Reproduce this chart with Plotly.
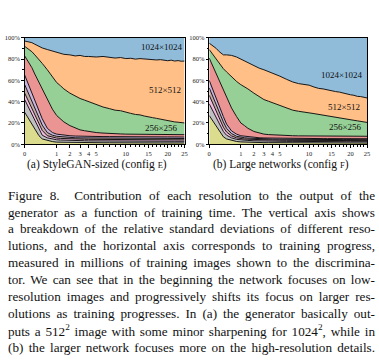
import numpy as np
import plotly.graph_objects as go

# ---------------- data ----------------
# training progress (millions of images) at which boundaries were read
mimg = [0, 0.05, 0.1, 0.2, 0.3, 0.5, 0.75, 1, 1.25, 1.5, 2, 2.5, 3, 3.5, 4, 5, 6, 7, 8, 9,
        10, 11, 12, 13, 14, 15, 16, 17, 18, 19, 20, 21, 22, 23, 24, 25]

resolutions = ["4x4", "8x8", "16x16", "32x32", "64x64", "128x128", "256x256", "512x512", "1024x1024"]
colors = ["#dcdc8f", "#c0c0c0", "#f1bbe0", "#c6aba5", "#cab4de", "#eb9494", "#96d096", "#ffbf87", "#90bcda"]

# cumulative upper boundary (%) of each resolution band, (a) config E
a_4 = [30, 19, 14.5, 8, 5, 3.5, 2.5, 2, 1.9, 1.8, 1.7, 1.6, 1.5, 1.5, 1.5, 1.4, 1.4, 1.4, 1.3, 1.3,
       1.3, 1.3, 1.3, 1.3, 1.3, 1.3, 1.2, 1.2, 1.2, 1.2, 1.2, 1.2, 1.2, 1.2, 1.2, 1.2]
a_8 = [42, 28.5, 22, 14, 8.5, 6, 4.8, 4.2, 4, 3.8, 3.6, 3.4, 3.3, 3.3, 3.2, 3.1, 3.1, 3, 3, 3,
       3, 3, 2.9, 2.9, 2.9, 2.9, 2.9, 2.9, 2.9, 2.9, 2.8, 2.8, 2.8, 2.8, 2.8, 2.8]
a_16 = [48, 34, 27.5, 19, 13, 8, 6.5, 5.8, 5.5, 5.3, 5, 4.8, 4.7, 4.7, 4.6, 4.5, 4.4, 4.4, 4.3, 4.3,
        4.3, 4.3, 4.3, 4.2, 4.2, 4.2, 4.2, 4.2, 4.2, 4.2, 4.2, 4.2, 4.2, 4.1, 4.1, 4.1]
a_32 = [56, 41, 34, 25, 18, 11, 8.5, 7.5, 7.1, 6.8, 6.4, 6.1, 6, 6, 5.9, 5.8, 5.7, 5.7, 5.6, 5.6,
        5.6, 5.6, 5.6, 5.5, 5.5, 5.5, 5.5, 5.5, 5.5, 5.5, 5.5, 5.5, 5.5, 5.4, 5.4, 5.4]
a_64 = [65, 48, 41, 32, 24, 15, 11, 9.5, 9, 8.5, 8, 7.7, 7.5, 7.5, 7.4, 7.3, 7.2, 7.2, 7.1, 7.1,
        7.1, 7, 7, 7, 7, 7, 7, 6.9, 6.9, 6.9, 6.9, 6.9, 6.9, 6.9, 6.9, 6.8]
a_128 = [83, 72, 66, 58, 51, 42, 33, 27, 24, 21, 17.5, 15, 13.5, 12.7, 12, 11, 10.5, 10, 9.8, 9.7,
         9.5, 9.5, 9.4, 9.4, 9.3, 9.3, 9.2, 9.2, 9.1, 9.1, 9.1, 9.1, 9, 9, 9, 9]
a_256 = [92, 87, 84, 80, 76, 70, 64, 58, 55, 52, 48, 45, 43, 41.5, 40, 37.5, 35, 33.5, 32, 31.5,
         30, 29, 28, 27.6, 26.5, 26, 25, 24.3, 23.5, 23, 22, 21.8, 21, 20.7, 20.5, 20]
a_512 = [97, 95.5, 94, 92, 90.5, 89, 87.5, 86, 85, 84.5, 84, 83, 83.5, 82.5, 82.5, 82, 82.5, 81.5, 81, 81.5,
         80.5, 80.8, 80, 80.5, 80.2, 79.6, 79.8, 79.2, 79.5, 78.8, 78.5, 79, 78.2, 78.6, 78, 78.2]
a_1024 = [100] * 36

# cumulative upper boundary (%) of each resolution band, (b) config F
b_4 = [27, 17, 12.5, 7, 5, 3.5, 2.6, 2.2, 2, 1.9, 1.7, 1.6, 1.5, 1.5, 1.5, 1.4, 1.4, 1.3, 1.3, 1.3,
       1.3, 1.3, 1.2, 1.2, 1.2, 1.2, 1.2, 1.2, 1.2, 1.2, 1.1, 1.1, 1.1, 1.1, 1.1, 1.1]
b_8 = [38, 25, 19, 12, 8.5, 6, 4.6, 4, 3.8, 3.6, 3.3, 3.1, 3, 3, 2.9, 2.8, 2.7, 2.7, 2.6, 2.6,
       2.6, 2.5, 2.5, 2.5, 2.5, 2.5, 2.5, 2.4, 2.4, 2.4, 2.4, 2.4, 2.4, 2.4, 2.4, 2.4]
b_16 = [46, 31, 24, 16, 11.5, 7.8, 6, 5.2, 4.9, 4.7, 4.4, 4.2, 4, 4, 3.9, 3.8, 3.7, 3.7, 3.6, 3.6,
        3.6, 3.5, 3.5, 3.5, 3.5, 3.5, 3.5, 3.4, 3.4, 3.4, 3.4, 3.4, 3.4, 3.4, 3.4, 3.4]
b_32 = [53, 37, 29.5, 21, 15, 10, 7.5, 6.5, 6.1, 5.8, 5.4, 5.1, 4.9, 4.9, 4.8, 4.7, 4.6, 4.6, 4.5, 4.5,
        4.5, 4.5, 4.5, 4.4, 4.4, 4.4, 4.4, 4.4, 4.4, 4.4, 4.4, 4.4, 4.4, 4.3, 4.3, 4.3]
b_64 = [60, 44, 36, 26, 19, 12.5, 9.5, 8, 7.5, 7, 6.5, 6.1, 5.9, 5.8, 5.7, 5.6, 5.5, 5.5, 5.4, 5.4,
        5.4, 5.4, 5.4, 5.3, 5.3, 5.3, 5.3, 5.3, 5.3, 5.3, 5.3, 5.3, 5.3, 5.2, 5.2, 5.2]
b_128 = [81, 66, 60, 50, 43, 34, 26, 20, 17.5, 15, 12, 10.5, 9.5, 9.1, 8.8, 8.4, 8.1, 8, 7.9, 7.9,
         7.8, 7.8, 7.7, 7.7, 7.7, 7.6, 7.6, 7.6, 7.6, 7.6, 7.6, 7.5, 7.5, 7.5, 7.5, 7.5]
b_256 = [89, 80, 76, 71, 68, 63, 59, 56, 54, 52, 48, 44.5, 42, 40.5, 39, 36, 34, 32, 31, 30.5,
         29.5, 28.8, 28, 27.5, 26.5, 26, 25, 24.7, 24, 23.5, 23, 22.5, 22, 21.5, 21, 20.5]
b_512 = [95, 90, 87, 84, 84, 83.5, 82, 80, 78, 76.5, 73.5, 71.5, 70, 68.5, 67, 64, 61, 58.5, 57, 56.2,
         55.5, 53.8, 52.5, 52, 51, 50.2, 49.5, 49, 48, 47.5, 46.5, 46, 45, 44.8, 44, 43.5]
b_1024 = [100] * 36

x_ticks = [0, 1, 2, 3, 4, 5, 10, 15, 20, 25]
x_minor = list(range(1, 26))
y_ticks = [0, 20, 40, 60, 80, 100]
y_labels = ["0%", "20%", "40%", "60%", "80%", "100%"]

subcaptions = ['(a) StyleGAN-sized (config <span style="font-size:8.5px">E</span>)',
               '(b) Large networks (config <span style="font-size:8.5px">F</span>)']

caption_lines = [
    "Figure 8.\u00a0 Contribution of each resolution to the output of the",
    "generator as a function of training time. The vertical axis shows",
    "a breakdown of the relative standard deviations of different reso-",
    "lutions, and the horizontal axis corresponds to training progress,",
    "measured in millions of training images shown to the discrimina-",
    "tor. We can see that in the beginning the network focuses on low-",
    "resolution images and progressively shifts its focus on larger res-",
    "olutions as training progresses. In (a) the generator basically out-",
    "puts a 512<sup>2</sup> image with some minor sharpening for 1024<sup>2</sup>, while in",
    "(b) the larger network focuses more on the high-resolution details.",
]

# ---------------- figure ----------------
W, H = 379, 364
SERIF = "Liberation Serif"
fig = go.Figure()

xs = np.sqrt(np.array(mimg, dtype=float))
panels = [
    ("x", "y", [a_4, a_8, a_16, a_32, a_64, a_128, a_256, a_512, a_1024]),
    ("x2", "y2", [b_4, b_8, b_16, b_32, b_64, b_128, b_256, b_512, b_1024]),
]
for xa, ya, bounds in panels:
    for i, (res, col, top) in enumerate(zip(resolutions, colors, bounds)):
        assert len(top) == len(mimg)
        fig.add_trace(go.Scatter(
            x=xs, y=top, xaxis=xa, yaxis=ya, mode="lines", name=res,
            line=dict(color="black", width=0.9 if i < 8 else 0),
            fill="tozeroy" if i == 0 else "tonexty", fillcolor=col,
            showlegend=False, hoverinfo="skip"))

ytop, ybot = 34.5, 143
ydom = [1 - ybot / H, 1 - ytop / H]
axis_common = dict(showline=True, linecolor="black", linewidth=1, mirror=True,
                   showgrid=False, zeroline=False, ticks="outside", ticklen=2.5,
                   tickwidth=0.8, tickcolor="black",
                   tickfont=dict(family=SERIF, size=6.5, color="#222"))
for k, (xl, xr) in enumerate([(23, 185), (210, 370)]):
    sfx = "" if k == 0 else str(k + 1)
    fig.layout["xaxis" + sfx] = dict(
        axis_common, domain=[xl / W, xr / W], range=[0, 5],
        tickvals=list(np.sqrt(x_ticks)), ticktext=[str(v) for v in x_ticks],
        minor=dict(tickvals=list(np.sqrt(x_minor)), ticks="outside", ticklen=1.5,
                   tickcolor="black", tickwidth=0.6),
        anchor="y" + sfx)
    fig.layout["yaxis" + sfx] = dict(
        axis_common, domain=ydom, range=[0, 100], tickvals=y_ticks, ticktext=y_labels,
        minor=dict(tickvals=[10, 30, 50, 70, 90], ticks="outside", ticklen=1.5,
                   tickcolor="black", tickwidth=0.6),
        anchor="x" + sfx)

# in-plot labels
inlabels = [
    ("x", "y", 4.28, 91, "1024×1024"), ("x", "y", 4.38, 51, "512×512"), ("x", "y", 4.28, 15.5, "256×256"),
    ("x2", "y2", 4.22, 65, "1024×1024"), ("x2", "y2", 4.27, 35, "512×512"), ("x2", "y2", 4.32, 16, "256×256"),
]
for xa, ya, x, y, t in inlabels:
    fig.add_annotation(x=x, y=y, xref=xa, yref=ya, text=t, showarrow=False,
                       font=dict(family=SERIF, size=9, color="#111"))

# subplot captions
for cx, t in zip([96 / W, 283 / W], subcaptions):
    fig.add_annotation(x=cx, y=1 - 164 / H, xref="paper", yref="paper", text=t,
                       xanchor="center", yanchor="middle", align="center",
                       showarrow=False, font=dict(family=SERIF, size=11.5, color="#111"))

# figure caption (each line is one annotation; justified in the page below)
first_cap = len(fig.layout.annotations)
for i, line in enumerate(caption_lines):
    yc = 195 + i * 17.2
    fig.add_annotation(x=4 / W, y=1 - yc / H, xref="paper", yref="paper", text=line,
                       xanchor="left", yanchor="middle", align="left", showarrow=False,
                       font=dict(family=SERIF, size=13.2, color="#111"))
last_cap = len(fig.layout.annotations)

fig.update_layout(width=W, height=H, margin=dict(l=0, r=0, t=0, b=0),
                  paper_bgcolor="white", plot_bgcolor="white")

TARGET = 367.0
post = """
document.body.style.margin = '0';
document.body.style.padding = '0';
(function(){
  var gd = document.getElementById('{plot_id}');
  function justify(){
    gd.querySelectorAll('g.annotation').forEach(function(g){
      var idx = parseInt(g.getAttribute('data-index'));
      if (idx >= FIRST && idx < LAST) {
        var t = g.querySelector('text.annotation-text');
        if (!t) return;
        t.style.wordSpacing = '0px';
        var cur = t.getComputedTextLength();
        var n = (t.textContent.match(/[ \\u00a0]/g) || []).length;
        if (n > 0 && cur < TARGET) {
          t.style.wordSpacing = ((TARGET - cur) / n) + 'px';
        }
      }
    });
  }
  justify();
  setTimeout(justify, 50);
})();
""".replace("FIRST", str(first_cap)).replace("LAST", str(last_cap)).replace("TARGET", str(TARGET))

fig.write_html("out.html", post_script=post, config={"displayModeBar": False})
